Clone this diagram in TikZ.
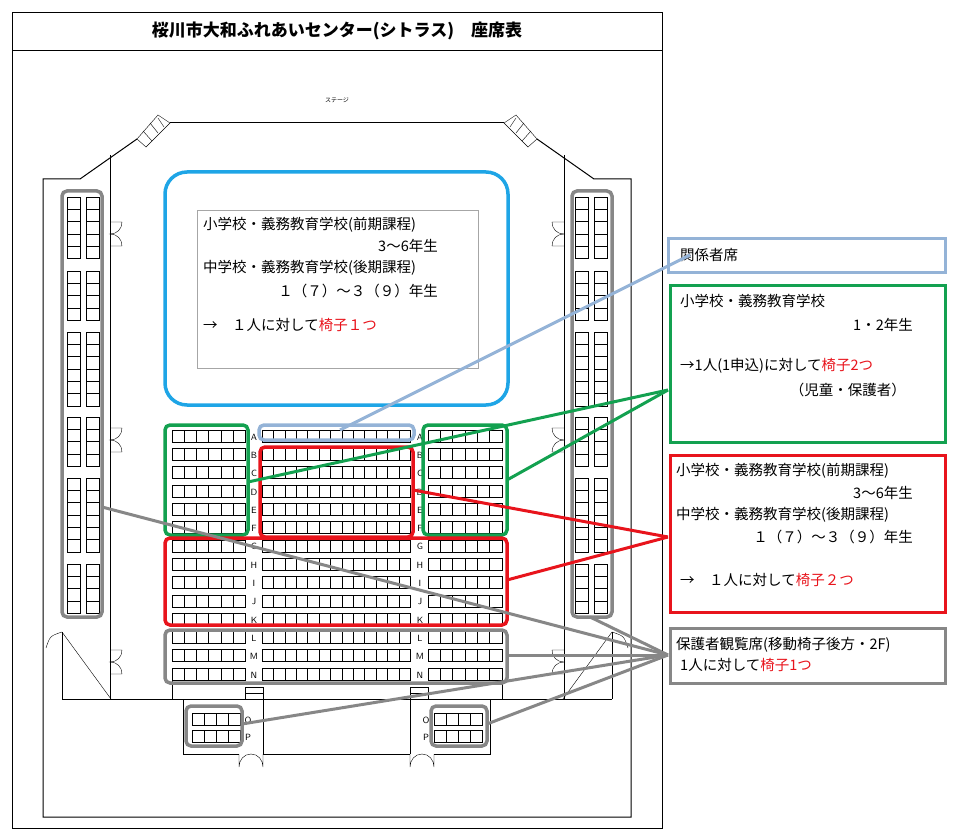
\documentclass[tikz,border=0pt]{standalone}
\usepackage{fontspec}
\setmainfont{Noto Sans CJK JP}
\usetikzlibrary{positioning}
\definecolor{cyanln}{HTML}{1EA5E6}
\definecolor{grnln}{HTML}{13A150}
\definecolor{redln}{HTML}{E8141C}
\definecolor{grayln}{HTML}{878787}
\definecolor{paleln}{HTML}{94B3D7}
% one row of seats: x, y, count, seat width
\newcommand{\seatrow}[4]{\foreach \k in {1,...,#3} \draw[thin] ({#1+(\k-1)*#4},#2) rectangle ++(#4,12);}
% one group of a side column: y, count, x
\newcommand{\sidegroup}[3]{\foreach \k in {1,...,#2} {\draw[thin] (#3,{#1+(\k-1)*12.3}) rectangle ++(13,12.3); \draw[thin] ({#3+19},{#1+(\k-1)*12.3}) rectangle ++(13,12.3);}}
% double door on a wall: x, y, direction
\newcommand{\walldoor}[3]{\draw[thin] (#1,#2) -- ({#1+#3*12},#2) .. controls ({#1+#3*12},{#2+7}) and ({#1+#3*7},{#2+12}) .. (#1,{#2+12}) .. controls ({#1+#3*7},{#2+12}) and ({#1+#3*12},{#2+17}) .. ({#1+#3*12},{#2+24}) -- (#1,{#2+24});}
\newcommand{\floordoor}[1]{\draw[thin] (#1,754) -- (#1,767) .. controls (#1,760) and ({#1+5},754) .. ({#1+12},754) .. controls ({#1+19},754) and ({#1+24},760) .. ({#1+24},767) -- ({#1+24},754);}

\begin{document}
\begin{tikzpicture}[x=1pt,y=-1pt,
    wall/.style={line width=1pt},
    zone/.style={line width=3.5pt, rounded corners=5pt},
    link/.style={line width=3pt},
    rowlbl/.style={font=\sffamily\fontsize{9}{9}\selectfont, inner sep=0pt},
    txt/.style={font=\fontsize{14.5}{17}\selectfont, inner sep=0pt}
]
\useasboundingbox (0,0) rectangle (962,840);

% frame and title
\draw[thin] (12,12) rectangle (662,828);
\draw[thin] (12,50) -- (662,50);
\node[font=\fontsize{17}{20}\selectfont\bfseries] (title) at (337,31) {桜川市大和ふれあいセンター(シトラス)　座席表};
\node[font=\fontsize{6}{6}\selectfont] (stage) at (337,100) {ステージ};

% walls
\draw[wall] (137,139) -- (80,179) -- (43,179) -- (43,817) -- (631,817) -- (631,179) -- (594,179) -- (537,139);
\draw[wall] (170,123) -- (504,123);
\draw[thin] (137,139) -- (158,115) -- (170,123) -- (146,147) -- cycle;
\draw[thin] (143,131) -- (152,141) (150,123) -- (158,133) (158,118) -- (164,127);
\draw[thin] (537,139) -- (516,115) -- (504,123) -- (528,147) -- cycle;
\draw[thin] (531,131) -- (522,141) (524,123) -- (516,133) (516,118) -- (510,127);
\draw[wall] (110,155) -- (110,699) (564,155) -- (564,699);
\draw[wall] (62,699) -- (612,699);
\draw[wall] (62,632) -- (62,699) (612,632) -- (612,699);
\draw[thin] (62,632) -- (111,699) (612,632) -- (563,699);
\draw[thin] (62,632) .. controls (50,636) .. (46,648);
\draw[thin] (612,632) .. controls (624,636) .. (628,648);
\draw[wall] (172,680) -- (172,699) (502,680) -- (502,699);
\draw[wall] (183,699) -- (183,754) -- (239,754) (263,754) -- (410,754) (434,754) -- (490,754) -- (490,699);
\draw[wall] (245,687) -- (245,699) (263,687) -- (263,754) (410,687) -- (410,754) (428,687) -- (428,699);
\foreach \y in {687,693} \draw[thin] (245,\y) -- (263,\y) (410,\y) -- (428,\y);
\floordoor{239}
\floordoor{410}
\walldoor{110}{222}{1}
\walldoor{110}{428}{1}
\walldoor{110}{650}{1}
\walldoor{564}{222}{-1}
\walldoor{564}{428}{-1}
\walldoor{564}{650}{-1}

% side columns
\foreach \y/\n in {197/5,271/4,332/6,417/4,478/6,564/4} {\sidegroup{\y}{\n}{67} \sidegroup{\y}{\n}{575}}

% main rows
\foreach \r [count=\i from 0] in {A,B,C,D,E,F,G,H,I,J,K,L,M,N} {
  \seatrow{172}{430+\i*18.3}{6}{12.2}
  \seatrow{262}{430+\i*18.3}{13}{11.4}
  \seatrow{428}{430+\i*18.3}{6}{12.3}
  \node[rowlbl] at (254,{437+\i*18.3}) {\r};
  \node[rowlbl] at (420,{437+\i*18.3}) {\r};
}
\foreach \r [count=\i from 0] in {O,P} {
  \seatrow{192}{713+\i*17}{4}{12}
  \seatrow{434}{713+\i*17}{4}{12}
  \node[rowlbl] at (248,{720+\i*17}) {\r};
  \node[rowlbl] at (426,{720+\i*17}) {\r};
}

% stage-front area
\draw[cyanln, line width=3.5pt, rounded corners=22pt] (165,172) rectangle (508,405);
\draw[gray!70, thin] (197,210) rectangle (478,368);
\node[txt, anchor=west] (f1) at (203,225) {小学校・義務教育学校(前期課程)};
\node[txt, anchor=east] (f2) at (438,246) {3〜6年生};
\node[txt, anchor=west] (f3) at (203,268) {中学校・義務教育学校(後期課程)};
\node[txt, anchor=east] (f4) at (438,291) {１（７）〜３（９）年生};
\node[txt, anchor=west] (f5) at (203,325) {→　１人に対して\textcolor{redln}{椅子１つ}};

% seat zones
\draw[zone, paleln] (259,425) rectangle (414,440);
\draw[zone, grnln] (165,425) rectangle (248,535);
\draw[zone, grnln] (423,425) rectangle (507,535);
\draw[zone, redln] (260,447) rectangle (413,537);
\draw[zone, redln] (165,538) rectangle (507,625);
\draw[zone, grayln] (165,630) rectangle (507,683);
\draw[zone, grayln] (62,191) rectangle (102,617);
\draw[zone, grayln] (572,191) rectangle (612,617);
\draw[zone, grayln] (186,706) rectangle (242,746);
\draw[zone, grayln] (431,706) rectangle (487,746);

% legend boxes
\draw[paleln, line width=3pt] (668,238) rectangle (945,272);
\node[txt, anchor=west] (rel) at (680,255) {関係者席};
\draw[grnln, line width=3pt] (670,285) rectangle (945,442);
\node[txt, anchor=west] (g1) at (680,301) {小学校・義務教育学校};
\node[txt, anchor=east] (g2) at (913,325) {1・2年生};
\node[txt, anchor=west] (g3) at (680,366) {→1人(1申込)に対して\textcolor{redln}{椅子2つ}};
\node[txt, anchor=east] (g4) at (906,390) {（児童・保護者）};
\draw[redln, line width=3pt] (670,455) rectangle (945,612);
\node[txt, anchor=west] (r1) at (676,471) {小学校・義務教育学校(前期課程)};
\node[txt, anchor=east] (r2) at (913,493) {3〜6年生};
\node[txt, anchor=west] (r3) at (676,515) {中学校・義務教育学校(後期課程)};
\node[txt, anchor=east] (r4) at (913,537) {１（７）〜３（９）年生};
\node[txt, anchor=west] (r5) at (680,580) {→　１人に対して\textcolor{redln}{椅子２つ}};
\draw[grayln, line width=3pt] (670,628) rectangle (945,683);
\node[txt, anchor=west] (p1) at (676,645) {保護者観覧席(移動椅子後方・2F)};
\node[txt, anchor=west] (p2) at (680,665) {1人に対して\textcolor{redln}{椅子1つ}};

% connectors
\coordinate (relend) at (690,255);
\coordinate (grnend) at (668,390);
\coordinate (redend) at (668,537);
\coordinate (grayend) at (668,655);
\draw[link, paleln] (340,430) -- (relend);
\draw[link, grnln] (248,482) -- (grnend);
\draw[link, grnln] (507,480) -- (grnend);
\draw[link, redln] (413,490) -- (redend);
\draw[link, redln] (507,580) -- (redend);
\draw[link, grayln] (102,507) -- (grayend);
\draw[link, grayln] (590,617) -- (grayend);
\draw[link, grayln] (507,655) -- (grayend);
\draw[link, grayln] (242,724) -- (grayend);
\draw[link, grayln] (487,724) -- (grayend);
\end{tikzpicture}
\end{document}
